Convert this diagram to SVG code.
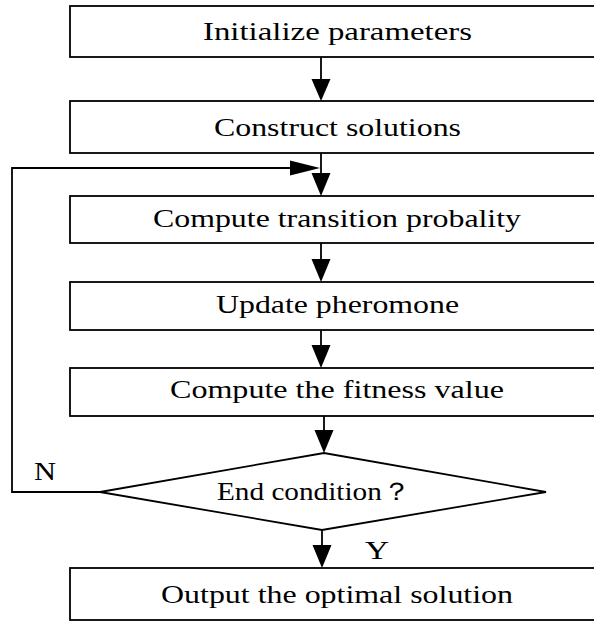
<svg xmlns="http://www.w3.org/2000/svg" width="594" height="621" viewBox="0 0 594 621">
<style>
.box{fill:#fff;stroke:#000;stroke-width:1.8}
.ln{fill:none;stroke:#000;stroke-width:1.8}
.ah{fill:#000;stroke:none}
text{font-family:"Liberation Serif","Times New Roman",serif;font-size:25px;fill:#000}
</style>
<rect width="594" height="621" fill="#fff"/>
<g id="connectors">
<line class="ln" x1="321" y1="57" x2="321" y2="80"/>
<polygon class="ah" points="311.5,79 330.5,79 321,101"/>
<line class="ln" x1="321" y1="153" x2="321" y2="174"/>
<polygon class="ah" points="311.5,173 330.5,173 321,196"/>
<line class="ln" x1="321" y1="243" x2="321" y2="260"/>
<polygon class="ah" points="311.5,259 330.5,259 321,282"/>
<line class="ln" x1="321" y1="330" x2="321" y2="346"/>
<polygon class="ah" points="311.5,345 330.5,345 321,368"/>
<line class="ln" x1="324" y1="416" x2="324" y2="431"/>
<polygon class="ah" points="314.5,430 333.5,430 324,453"/>
<line class="ln" x1="322" y1="530" x2="322" y2="546"/>
<polygon class="ah" points="312.5,545 331.5,545 322,568"/>
<polyline class="ln" points="100,492 12,492 12,168 292,168"/>
<polygon class="ah" points="290,160.5 290,175.5 320,168"/>
<text x="34" y="480" textLength="22" lengthAdjust="spacingAndGlyphs">N</text>
<text x="365" y="559" textLength="24" lengthAdjust="spacingAndGlyphs">Y</text>
</g>
<g id="n1"><rect class="box" x="70" y="6" width="530" height="51"/><text x="203" y="40" textLength="269" lengthAdjust="spacingAndGlyphs">Initialize  parameters</text></g>
<g id="n2"><rect class="box" x="70" y="101" width="530" height="52"/><text x="214" y="136" textLength="247" lengthAdjust="spacingAndGlyphs">Construct solutions</text></g>
<g id="n3"><rect class="box" x="70" y="196" width="530" height="47"/><text x="153" y="227" textLength="368" lengthAdjust="spacingAndGlyphs">Compute transition probality</text></g>
<g id="n4"><rect class="box" x="70" y="282" width="530" height="48"/><text x="216" y="313" textLength="243" lengthAdjust="spacingAndGlyphs">Update pheromone</text></g>
<g id="n5"><rect class="box" x="70" y="368" width="530" height="48"/><text x="170" y="398" textLength="334" lengthAdjust="spacingAndGlyphs">Compute the fitness value</text></g>
<g id="n6"><polygon class="box" points="100,492 324,453 546,492 322,530"/><text x="217" y="500" textLength="194" lengthAdjust="spacingAndGlyphs">End condition？</text></g>
<g id="n7"><rect class="box" x="70" y="568" width="530" height="52"/><text x="161" y="603" textLength="352" lengthAdjust="spacingAndGlyphs">Output the optimal solution</text></g>
</svg>
